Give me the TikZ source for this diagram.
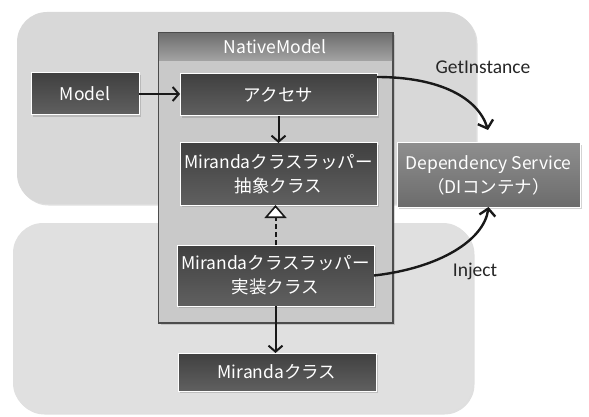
\documentclass[tikz,border=0pt]{standalone}
\usepackage{fontspec}
\setmainfont{Noto Sans CJK JP}
\newfontfamily\labelfont{Carlito}
\usetikzlibrary{arrows.meta,shadows}
\definecolor{areatop}{HTML}{D8D8D8}
\definecolor{areabot}{HTML}{E0E0E0}
\definecolor{boxtop}{HTML}{404040}
\definecolor{boxbot}{HTML}{606060}
\definecolor{deptop}{HTML}{8E8E8E}
\definecolor{depbot}{HTML}{6C6C6C}
\definecolor{nmbody}{HTML}{C9C9C9}
\definecolor{nmheadtop}{HTML}{6E6E6E}
\definecolor{nmheadbot}{HTML}{A2A2A2}
\newcommand{\boxfont}{\fontsize{17.5}{24}\selectfont}
\begin{document}
\begin{tikzpicture}[x=1pt,y=-1pt,
  area/.style={rounded corners=30pt, draw=none,
    drop shadow={shadow xshift=1.5pt,shadow yshift=-1.5pt,opacity=0.25}},
  darkbox/.style={draw=white, line width=1pt, top color=boxtop, bottom color=boxbot,
    text=white, font=\boxfont, align=center, inner sep=0pt, outer sep=0pt,
    drop shadow={shadow xshift=2pt,shadow yshift=-2pt,opacity=0.35}},
  depbox/.style={darkbox, top color=deptop, bottom color=depbot},
  flow/.style={draw=black!90, line width=2pt, -{Straight Barb[length=6pt,width=14pt]}},
  call/.style={draw=black!90, line width=2.4pt, -{Straight Barb[length=7pt,width=16pt]}},
  realize/.style={draw=black!90, line width=2pt, dash pattern=on 5pt off 3pt,
    -{Triangle[open,length=13pt,width=22pt,line width=1.6pt,fill=white]}},
  tag/.style={font=\labelfont\fontsize{19.5}{22}\selectfont, text=black!85, inner sep=0pt}
]
\useasboundingbox (0,0) rectangle (589,417);

% grey areas behind the diagram
\fill[area, fill=areatop] (17,12) rectangle (476,204);
\fill[area, fill=areabot] (13,223) rectangle (473,413);

% NativeModel container with its header bar
\node[draw=black!70, line width=1pt, fill=nmbody, anchor=north west,
  minimum width=234pt, minimum height=289pt, inner sep=0pt,
  drop shadow={shadow xshift=2pt,shadow yshift=-2pt,opacity=0.3}]
  (nm) at (158,33) {};
\node[anchor=north west, minimum width=234pt, minimum height=27pt, inner sep=0pt,
  top color=nmheadtop, bottom color=nmheadbot, text=white, font=\boxfont]
  (nmhead) at (158,33) {NativeModel};
\draw[black!70, line width=1pt] (nm.north west) rectangle (nm.south east);

% class boxes
\node[darkbox, minimum width=108pt, minimum height=42pt] (model) at (85,94) {Model};
\node[darkbox, minimum width=197pt, minimum height=42pt] (acc) at (278.5,95) {アクセサ};
\node[darkbox, minimum width=197pt, minimum height=62pt] (abs) at (278.5,174)
  {Mirandaクラスラッパー\\抽象クラス};
\node[darkbox, minimum width=197pt, minimum height=61pt] (impl) at (275.5,275.5)
  {Mirandaクラスラッパー\\実装クラス};
\node[darkbox, minimum width=198pt, minimum height=38pt] (mir) at (277,372) {Mirandaクラス};
\node[depbox, minimum width=183pt, minimum height=64pt] (dep) at (488.5,175)
  {Dependency Service\\（DIコンテナ）};

% connectors
\draw[flow] (model.east) -- (acc.west |- model.east);
\draw[flow] (acc.south) -- (abs.north);
\draw[realize] (impl.north) -- (impl.north |- abs.south);
\draw[flow] (impl.south) -- (impl.south |- mir.north);

\coordinate (getend) at (488,130);
\draw[call] ([yshift=-3pt]acc.north east) .. controls (440,77) and (478,98) .. (getend);
\draw[call] (impl.east) .. controls (440,268) and (484,240) .. (dep.south);

% connector labels
\node[tag] (getlbl) at (483,67) {GetInstance};
\node[tag] (injlbl) at (475,271) {Inject};
\end{tikzpicture}
\end{document}
